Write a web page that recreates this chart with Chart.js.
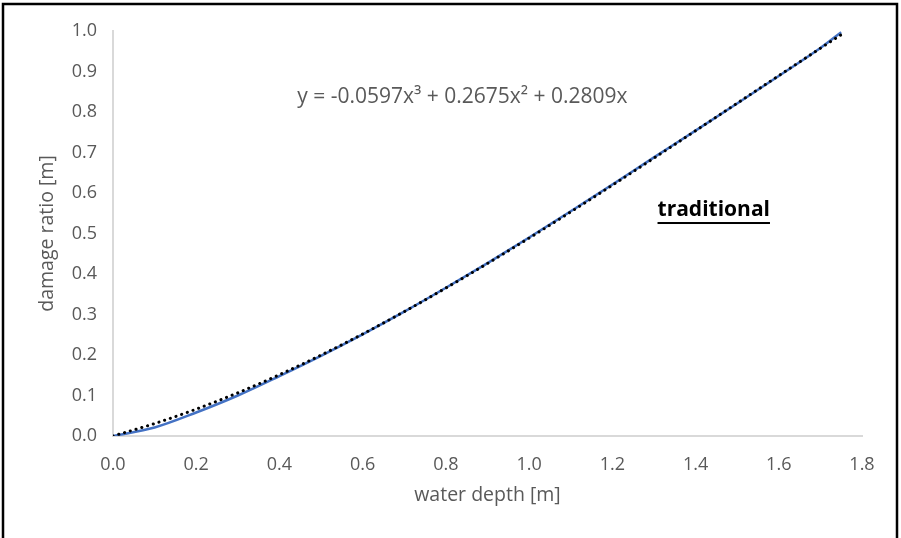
<!DOCTYPE html>
<html>
<head>
<meta charset="utf-8">
<title>Damage curve – traditional</title>
<script src="https://cdn.jsdelivr.net/npm/chart.js@4.4.1/dist/chart.umd.min.js"></script>
<style>
  html, body { margin: 0; padding: 0; background: #ffffff; }
  canvas { display: block; }
</style>
</head>
<body>
<canvas id="c" width="901" height="538"></canvas>
<script>
// water depth [m] at which the damage ratio is given
const depths = [0, 0.1, 0.2, 0.3, 0.4, 0.5, 0.6, 0.7, 0.8, 0.9, 1.0, 1.1, 1.2, 1.3, 1.4, 1.5, 1.6, 1.7, 1.75];

// damage ratio of the "traditional" building type
const damageRatio = [0, 0.021, 0.058, 0.100, 0.148, 0.198, 0.251, 0.307, 0.366, 0.427, 0.490, 0.555, 0.621, 0.688, 0.754, 0.821, 0.889, 0.958, 0.997];

// cubic trendline y = -0.0597x³ + 0.2675x² + 0.2809x evaluated at the same depths
const trendRatio = [0, 0.0307, 0.0664, 0.1067, 0.1513, 0.1999, 0.2519, 0.3072, 0.3654, 0.4260, 0.4887, 0.5532, 0.6191, 0.6861, 0.7537, 0.8217, 0.8897, 0.9573, 0.9908];

const xTicks = [0, 0.2, 0.4, 0.6, 0.8, 1.0, 1.2, 1.4, 1.6, 1.8];
const yTicks = [0, 0.1, 0.2, 0.3, 0.4, 0.5, 0.6, 0.7, 0.8, 0.9, 1.0];

const equationText = 'y = -0.0597x\u00B3 + 0.2675x\u00B2 + 0.2809x';
const seriesLabel = 'traditional';

const toPoints = (xs, ys) => xs.map((x, i) => ({ x: x, y: ys[i] }));

const GRAY_TEXT = '#595959';
const AXIS_LINE = '#d9d9d9';
const FONT = '"Open Sans", "Liberation Sans", sans-serif';

// white background + frame around the figure
const framePlugin = {
  id: 'frame',
  beforeDraw(chart) {
    const ctx = chart.ctx;
    ctx.save();
    ctx.fillStyle = '#ffffff';
    ctx.fillRect(0, 0, chart.width, chart.height);
    ctx.restore();
  },
  afterDraw(chart) {
    const ctx = chart.ctx;
    ctx.save();
    ctx.strokeStyle = '#000000';
    ctx.lineWidth = 2.5;
    ctx.beginPath();
    ctx.moveTo(3, chart.height + 2);
    ctx.lineTo(3, 4);
    ctx.lineTo(chart.width - 4, 4);
    ctx.lineTo(chart.width - 4, chart.height + 2);
    ctx.stroke();
    ctx.restore();
  }
};

// trendline equation and series name written inside the plot
const annotationPlugin = {
  id: 'notes',
  afterDatasetsDraw(chart) {
    const ctx = chart.ctx;
    const area = chart.chartArea;
    const w = area.right - area.left;
    const h = area.bottom - area.top;
    ctx.save();

    // equation
    ctx.font = '21px ' + FONT;
    ctx.fillStyle = GRAY_TEXT;
    ctx.textBaseline = 'middle';
    ctx.textAlign = 'left';
    ctx.fillText(equationText, area.left + w * 0.246, area.top + h * 0.163);

    // series name, bold and underlined
    ctx.font = 'bold 21px ' + FONT;
    ctx.fillStyle = '#000000';
    const lx = area.left + w * 0.727;
    const ly = area.top + h * 0.442;
    ctx.fillText(seriesLabel, lx, ly);
    const tw = ctx.measureText(seriesLabel).width;
    ctx.fillRect(lx, ly + 12, tw, 2);

    ctx.restore();
  }
};

new Chart(document.getElementById('c'), {
  type: 'scatter',
  data: {
    datasets: [
      {
        label: 'Poly. (' + seriesLabel + ')',
        data: toPoints(depths, trendRatio),
        showLine: true,
        borderColor: '#000000',
        borderWidth: 3,
        borderDash: [0.1, 5.9],
        borderCapStyle: 'round',
        pointRadius: 0,
        cubicInterpolationMode: 'monotone',
        order: 0
      },
      {
        label: seriesLabel,
        data: toPoints(depths, damageRatio),
        showLine: true,
        borderColor: '#4472C4',
        borderWidth: 2.5,
        pointRadius: 0,
        cubicInterpolationMode: 'monotone',
        order: 1
      }
    ]
  },
  options: {
    responsive: false,
    animation: false,
    events: [],
    layout: { padding: { left: 0, top: 31, right: 39, bottom: 0 } },
    plugins: {
      legend: { display: false },
      tooltip: { enabled: false },
      title: { display: false }
    },
    scales: {
      x: {
        type: 'linear',
        min: 0,
        max: 1.8,
        afterBuildTicks(scale) { scale.ticks = xTicks.map(v => ({ value: v })); },
        afterFit(scale) { scale.height = 102; },
        grid: { display: false, drawTicks: false },
        border: { display: true, color: AXIS_LINE, width: 2 },
        ticks: {
          padding: 18,
          color: GRAY_TEXT,
          font: { family: FONT, size: 18 },
          maxRotation: 0,
          callback: v => Number(v).toFixed(1)
        },
        title: {
          display: true,
          text: 'water depth [m]',
          color: GRAY_TEXT,
          font: { family: FONT, size: 19.5 },
          padding: { top: 0, bottom: 31 }
        }
      },
      y: {
        type: 'linear',
        min: 0,
        max: 1,
        afterBuildTicks(scale) { scale.ticks = yTicks.map(v => ({ value: v })); },
        afterFit(scale) { scale.width = 113; },
        grid: { display: false, drawTicks: false },
        border: { display: true, color: AXIS_LINE, width: 2 },
        ticks: {
          padding: 16,
          color: GRAY_TEXT,
          font: { family: FONT, size: 18 },
          callback: v => Number(v).toFixed(1)
        },
        title: {
          display: true,
          text: 'damage ratio [m]',
          color: GRAY_TEXT,
          font: { family: FONT, size: 19.5 },
          padding: { top: 36, bottom: 0 }
        }
      }
    }
  },
  plugins: [framePlugin, annotationPlugin]
});
</script>
</body>
</html>
